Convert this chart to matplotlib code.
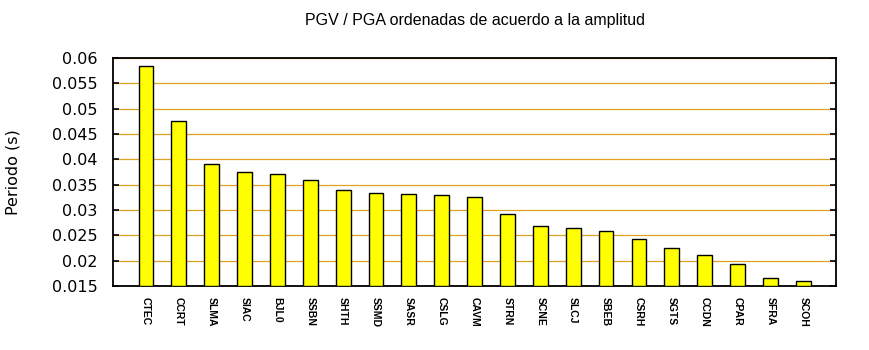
import matplotlib
matplotlib.use('Agg')
import matplotlib.pyplot as plt
from matplotlib.ticker import FuncFormatter

stations = ['CTEC', 'CCRT', 'SLMA', 'SIAC', 'BJL0', 'SSBN', 'SHTH', 'SSMD', 'SASR', 'CSLG', 'CAVM',
            'STRN', 'SCNE', 'SLCJ', 'SBEB', 'CSRH', 'SGTS', 'CCDN', 'CPAR', 'SFRA', 'SCOH']
periodo = [0.0584, 0.0476, 0.0390, 0.0376, 0.0372, 0.0359, 0.0339, 0.0333, 0.0331, 0.0329, 0.0325,
           0.0293, 0.0268, 0.0264, 0.0258, 0.0242, 0.0224, 0.0211, 0.0193, 0.0165, 0.0160]
yticks = [0.015, 0.02, 0.025, 0.03, 0.035, 0.04, 0.045, 0.05, 0.055, 0.06]

fig = plt.figure(figsize=(8.7, 3.5), dpi=100)
ax = fig.add_axes([0.13, 0.183, 0.831, 0.651])

x = range(len(stations))
ax.bar(x, [v - 0.015 for v in periodo], bottom=0.015, width=0.45,
       color='#ffff00', edgecolor='black', linewidth=1.0, zorder=3)

ax.set_xlim(-1, len(stations))
ax.set_ylim(0.015, 0.06)
ax.set_yticks(yticks)
ax.yaxis.set_major_formatter(FuncFormatter(lambda v, p: '%g' % round(v, 4)))
ax.grid(axis='y', color='#e0a020', linewidth=0.9, zorder=1)
ax.set_axisbelow(True)

ax.set_xticks(list(x))
ax.set_xticklabels(stations, rotation=-90, fontsize=7.5, family='Liberation Sans',
                   fontweight='bold')
ax.tick_params(axis='x', length=0, pad=8)
ax.tick_params(axis='y', direction='in', length=4, width=1.2, right=True,
               labelsize=11.5, pad=11)

for s in ax.spines.values():
    s.set_linewidth(1.3)

ax.set_ylabel('Periodo (s)', fontsize=11.5, labelpad=23)
ax.set_title('PGV / PGA ordenadas de acuerdo a la amplitud', fontsize=11.5,
             family='Liberation Sans', pad=24)

fig.savefig('out.png', dpi=100)
